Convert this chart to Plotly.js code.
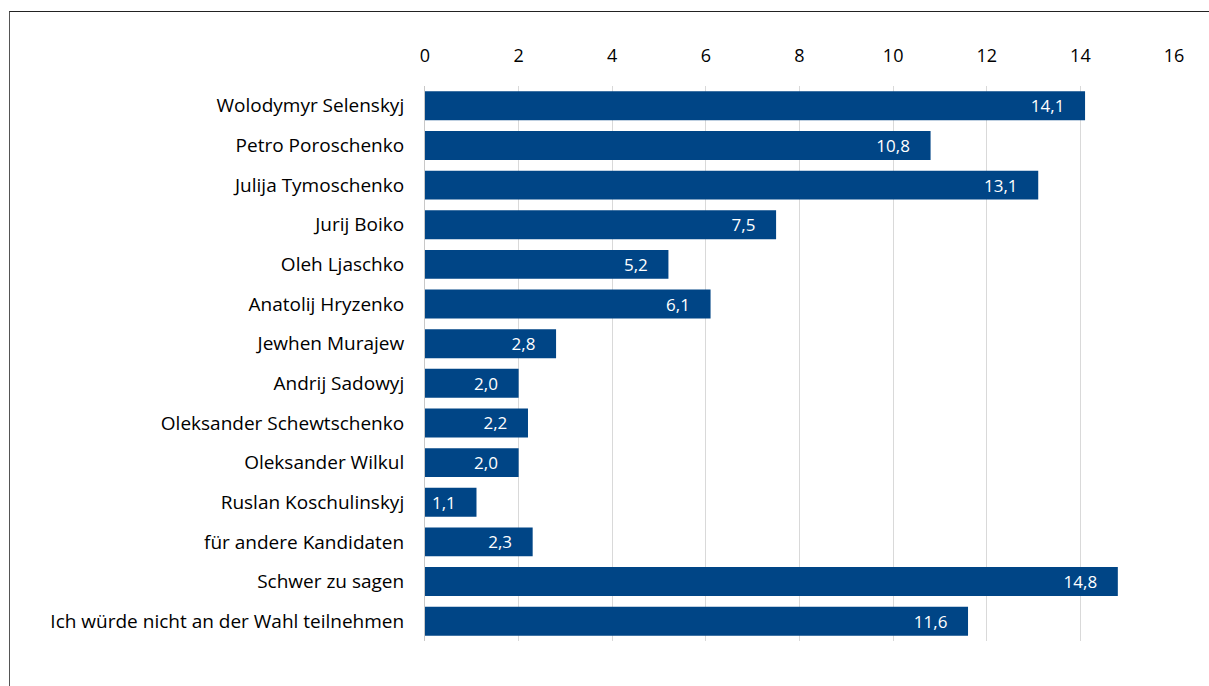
<!DOCTYPE html>
<html>
<head>
<meta charset="utf-8">
<script src="https://cdn.plot.ly/plotly-3.0.1.min.js"></script>
<style>
html,body{margin:0;padding:0;background:#fff;}
#chart{width:1209px;height:686px;position:absolute;left:0;top:0;}
#frame{position:absolute;left:9px;top:11px;width:1300px;height:700px;border-top:1px solid #222;border-left:1px solid #555;pointer-events:none;}
</style>
</head>
<body>
<div id="chart"></div>
<div id="frame"></div>
<script>
var categories = [
  "Wolodymyr Selenskyj",
  "Petro Poroschenko",
  "Julija Tymoschenko",
  "Jurij Boiko",
  "Oleh Ljaschko",
  "Anatolij Hryzenko",
  "Jewhen Murajew",
  "Andrij Sadowyj",
  "Oleksander Schewtschenko",
  "Oleksander Wilkul",
  "Ruslan Koschulinskyj",
  "für andere Kandidaten",
  "Schwer zu sagen",
  "Ich würde nicht an der Wahl teilnehmen"
];
var values = [14.1, 10.8, 13.1, 7.5, 5.2, 6.1, 2.8, 2.0, 2.2, 2.0, 1.1, 2.3, 14.8, 11.6];
var tickValues = [0, 2, 4, 6, 8, 10, 12, 14, 16];

var labels = values.map(function(v){ return v.toFixed(1).replace('.', ',') + '\u00a0\u00a0\u00a0\u00a0'; });

var trace = {
  type: 'bar',
  orientation: 'h',
  y: categories,
  x: values,
  text: labels,
  textposition: 'inside',
  insidetextanchor: 'end',
  textangle: 0,
  texttemplate: '%{text}',
  constraintext: 'none',
  textfont: {family: 'Open Sans, sans-serif', size: 17, color: '#ffffff'},
  marker: {color: '#004586', line: {width: 0}},
  hoverinfo: 'none'
};

var layout = {
  width: 1209,
  height: 686,
  margin: {l: 425, r: 35, t: 86, b: 45},
  paper_bgcolor: '#ffffff',
  plot_bgcolor: '#ffffff',
  showlegend: false,
  bargap: 0.27,
  font: {family: 'Open Sans, sans-serif', color: '#000000'},
  xaxis: {
    side: 'top',
    range: [0, 16],
    tickvals: tickValues,
    ticktext: tickValues.map(String),
    showgrid: true,
    gridcolor: '#d9d9d9',
    gridwidth: 1,
    zeroline: false,
    showline: false,
    ticks: '',
    ticklabelstandoff: 19,
    tickfont: {family: 'Open Sans, sans-serif', size: 18, color: '#000'},
    fixedrange: true
  },
  yaxis: {
    autorange: 'reversed',
    showline: true,
    linecolor: '#c8c8c8',
    linewidth: 1,
    ticks: '',
    ticklen: 0,
    ticklabelstandoff: 16,
    tickfont: {family: 'Open Sans, sans-serif', size: 19, color: '#000'},
    automargin: false,
    fixedrange: true
  }
};

Plotly.newPlot('chart', [trace], layout, {displayModeBar: false, staticPlot: true});
</script>
</body>
</html>
